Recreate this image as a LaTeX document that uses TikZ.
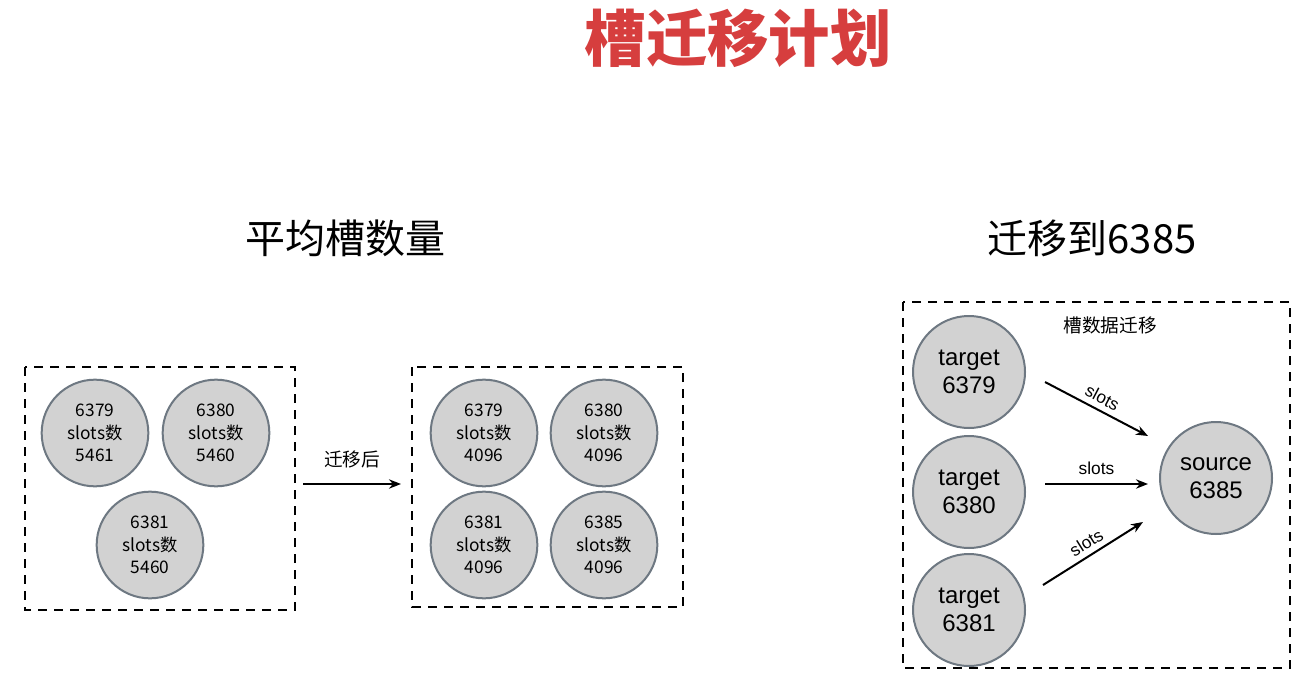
\documentclass[tikz,border=0pt]{standalone}
\usepackage{fontspec}
\setmainfont{Liberation Sans}
\newfontfamily\cjk{Noto Sans CJK SC}
\usetikzlibrary{arrows.meta}
\definecolor{titlered}{RGB}{214,62,62}
\definecolor{cfill}{RGB}{210,210,210}
\definecolor{cline}{RGB}{110,120,130}
\tikzset{
  slotc/.style={circle,draw=cline,line width=1.5pt,fill=cfill,minimum size=80pt,inner sep=0pt,align=center,font=\cjk\fontsize{13}{17}\selectfont},
  bigc/.style={circle,draw=cline,line width=1.5pt,fill=cfill,minimum size=84pt,inner sep=0pt,align=center,font=\fontsize{18}{21}\selectfont},
  dbox/.style={draw,line width=1.8pt,dash pattern=on 7pt off 5pt},
  arr/.style={-{Stealth[length=9pt,width=7pt]},line width=1.5pt},
  lbl/.style={font=\cjk\fontsize{14}{16}\selectfont},
  sl/.style={font=\fontsize{13}{15}\selectfont,inner sep=1pt}
}
\begin{document}
\begin{tikzpicture}[x=0.75pt,y=-0.75pt]
\useasboundingbox[fill=white] (0,0) rectangle (1308,695);
\node (title) at (738,38) {\cjk\bfseries\fontsize{46}{50}\selectfont\color{titlered}槽迁移计划};
\node (s1) at (345,238) {\cjk\fontsize{30}{32}\selectfont 平均槽数量};
\node (s2) at (1092,238) {\cjk\fontsize{30}{32}\selectfont 迁移到6385};
\draw[dbox] (25,367) rectangle (295,610);
\node[slotc] (a1) at (95,433) {6379\\slots数\\5461};
\node[slotc] (a2) at (216,433) {6380\\slots数\\5460};
\node[slotc] (a3) at (150,545) {6381\\slots数\\5460};
\coordinate (m1) at (303,484);
\coordinate (m2) at (401,484);
\draw[arr] (m1) -- node[lbl,above=8pt] {迁移后} (m2);
\draw[dbox] (412,367) rectangle (683,607);
\node[slotc] (b1) at (484,433) {6379\\slots数\\4096};
\node[slotc] (b2) at (604,433) {6380\\slots数\\4096};
\node[slotc] (b3) at (484,545) {6381\\slots数\\4096};
\node[slotc] (b4) at (604,545) {6385\\slots数\\4096};
\draw[dbox] (903,302) rectangle (1290,668);
\node[lbl] (lab) at (1110,325) {槽数据迁移};
\node[bigc] (t1) at (969,372) {target\\6379};
\node[bigc] (t2) at (969,492) {target\\6380};
\node[bigc] (t3) at (969,610) {target\\6381};
\node[bigc] (src) at (1216,478) {source\\6385};
\coordinate (p1) at (1045,382); \coordinate (q1) at (1148,436);
\coordinate (p2) at (1045,484); \coordinate (q2) at (1148,484);
\coordinate (p3) at (1043,585); \coordinate (q3) at (1143,522);
\draw[arr] (p1) -- node[sl,above=3pt,sloped] {slots} (q1);
\draw[arr] (p2) -- node[sl,above=5pt] {slots} (q2);
\draw[arr] (p3) -- node[sl,above=3pt,sloped] {slots} (q3);
\end{tikzpicture}
\end{document}
